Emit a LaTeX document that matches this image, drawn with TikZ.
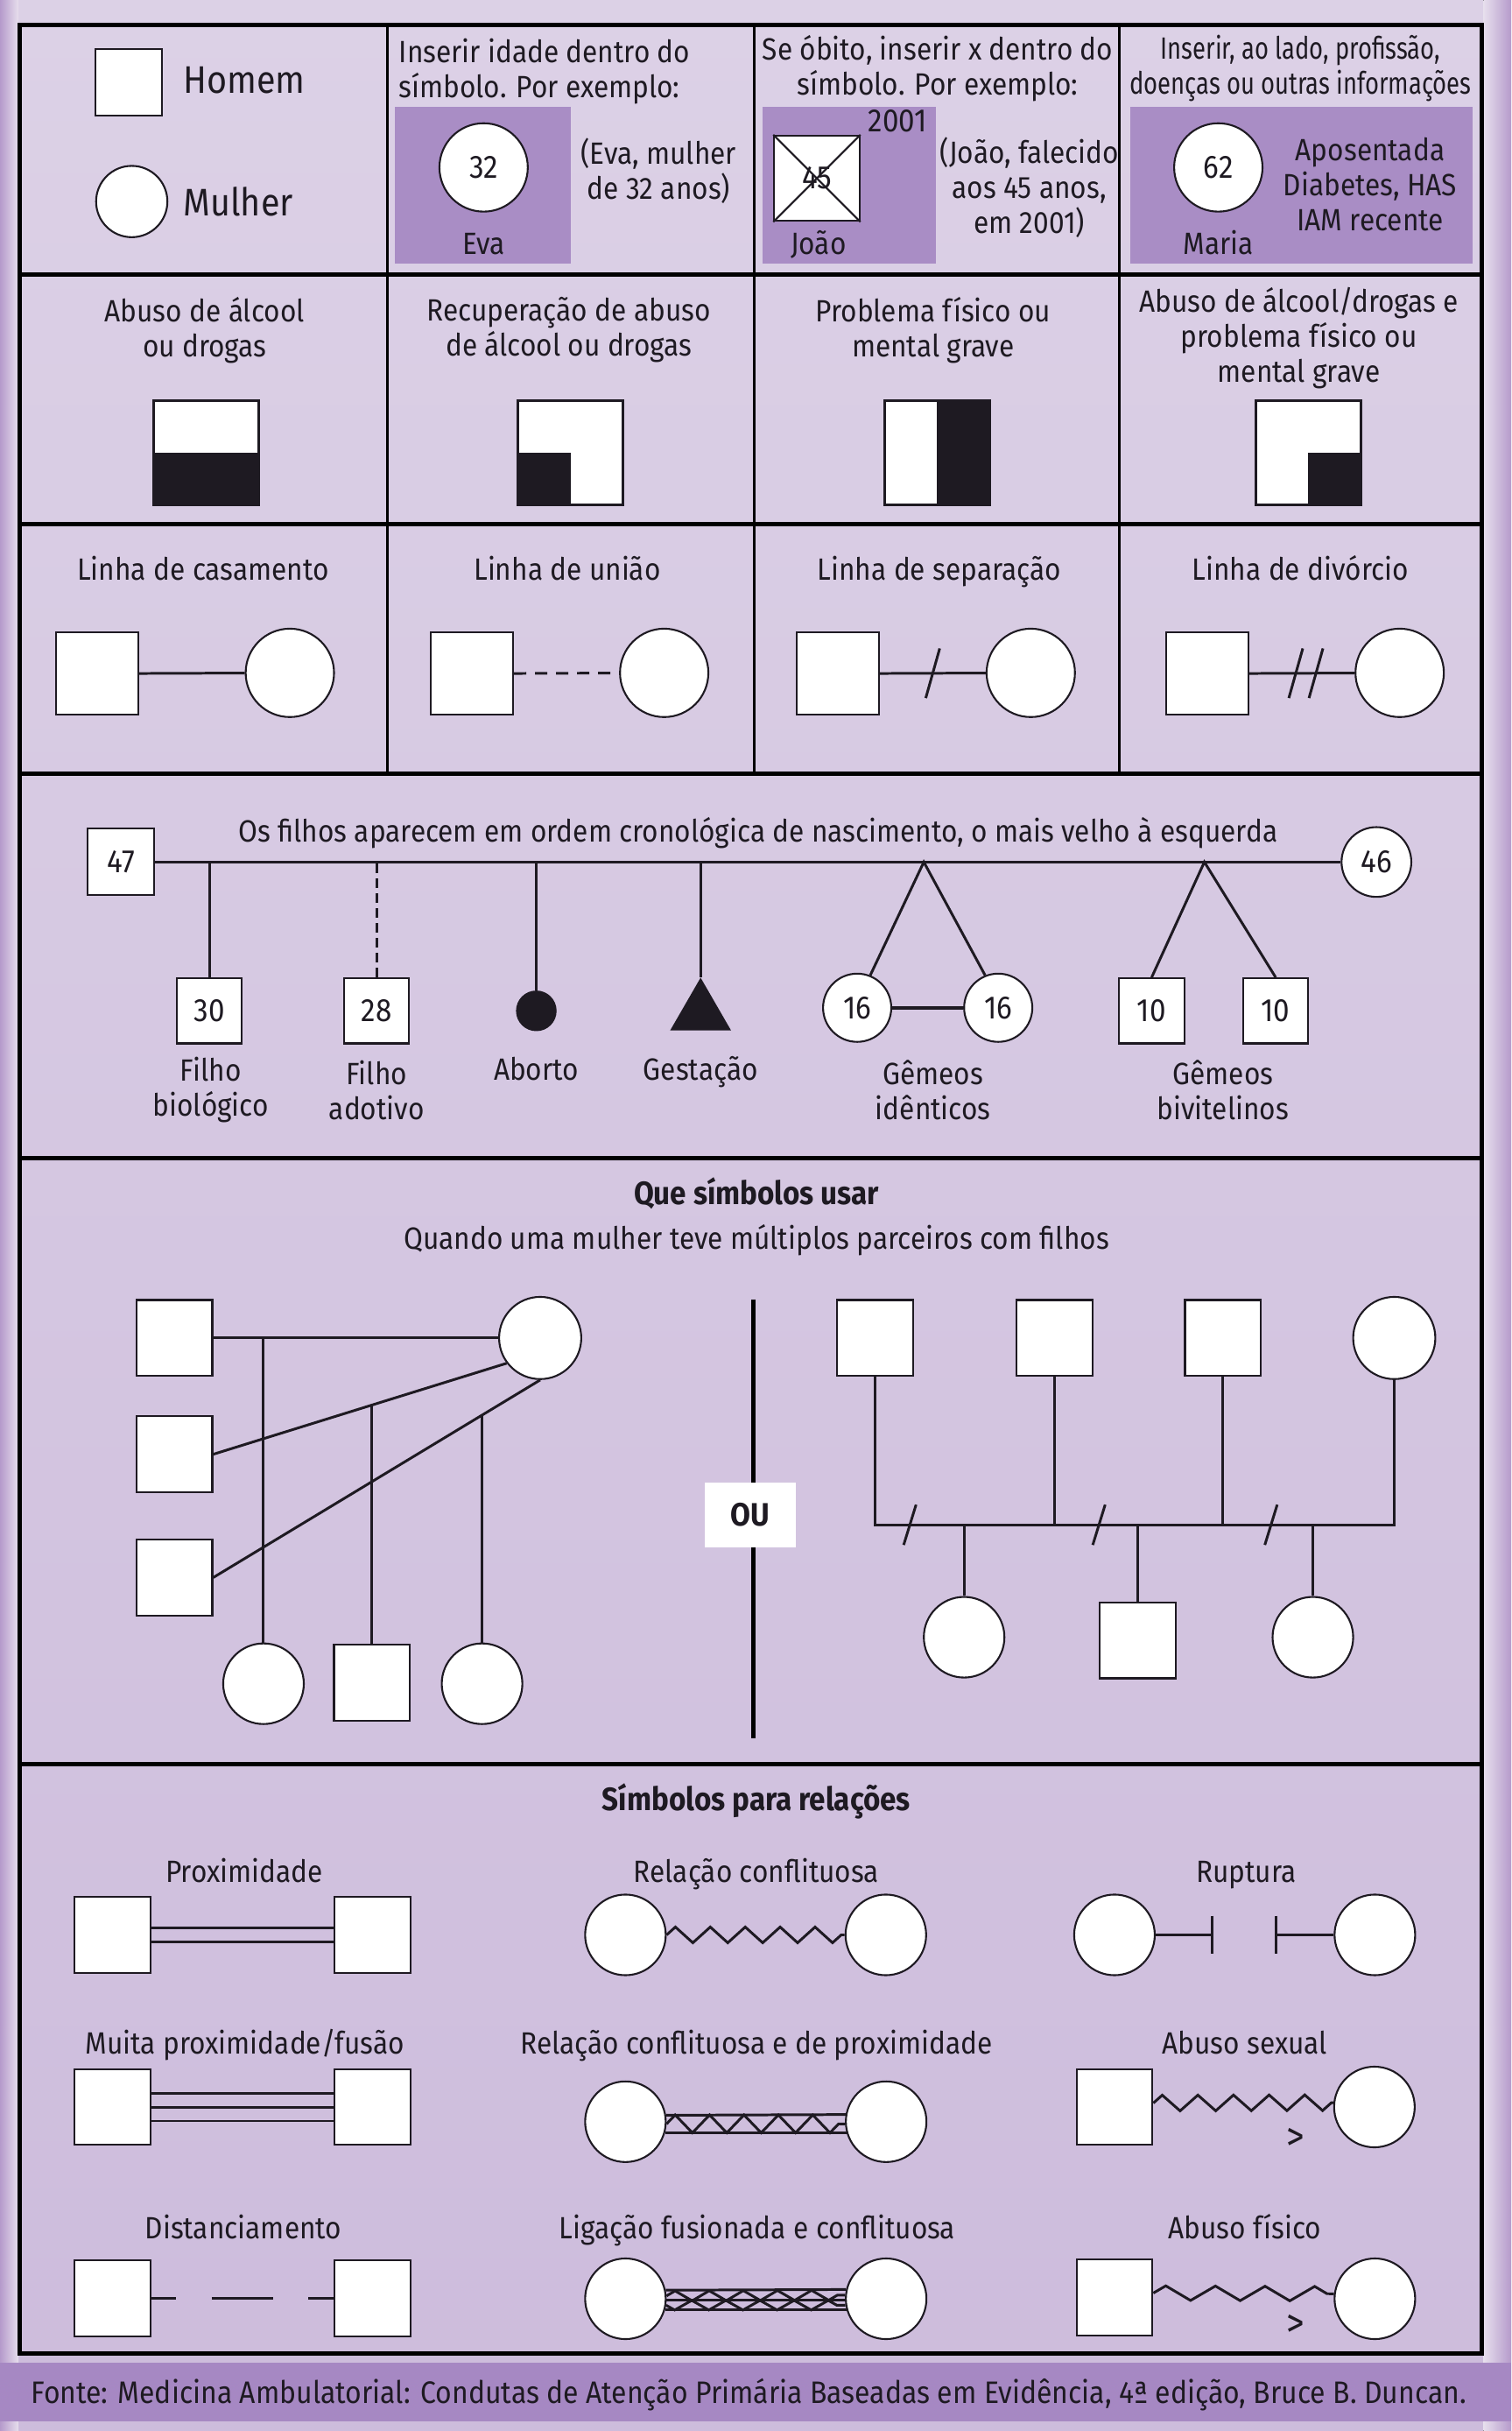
\documentclass[tikz,border=0pt]{standalone}
\usepackage{fontspec}
\setmainfont{Fira Sans}[FakeStretch=0.9]
\newfontfamily\narrowfam{Fira Sans}[FakeStretch=0.78]
\usepackage{xcolor}
\usetikzlibrary{positioning,calc,shapes.geometric,decorations.pathmorphing}

\definecolor{ink}{HTML}{1E1A22}
\definecolor{bgtop}{HTML}{DCD1E6}
\definecolor{bgmid}{HTML}{E7DFED}
\definecolor{bgbot}{HTML}{CDBCDC}
\definecolor{bgedge}{HTML}{B59ACB}
\definecolor{hl}{HTML}{A98DC5}
\definecolor{foot}{HTML}{A688C3}

\newcommand{\pxu}{0.17713mm}
\newcommand{\lblfont}{\fontsize{10}{11.4}\selectfont}
\newcommand{\bigfont}{\fontsize{12.5}{14}\selectfont}
\newcommand{\numfont}{\fontsize{10.5}{12}\selectfont}
\newcommand{\boldlbl}{\fontsize{10.5}{12}\selectfont\bfseries}
\newcommand{\narrowlbl}{\narrowfam\fontsize{10}{11.4}\selectfont}
\newcommand{\footfont}{\fontsize{10.1}{12}\selectfont}
\newcommand{\signfont}{\fontsize{13}{14}\selectfont}

\begin{document}
\begin{tikzpicture}[
  x=0.17713mm, y=-0.17713mm,
  lbl/.style={font=\lblfont,text=ink,align=center,inner sep=0pt},
  one/.style={lbl,text height=7.2pt,text depth=2.2pt},
  symb/.style={draw=ink,fill=white,line width=0.6pt,inner sep=0pt},
  msq/.style={symb,rectangle,minimum size=#1*\pxu},
  fem/.style={symb,circle,minimum size=#1*\pxu},
  num/.style={font=\numfont,text=ink},
  link/.style={draw=ink,line width=0.85pt},
  zz/.style 2 args={link,decorate,decoration={zigzag,segment length=#1,amplitude=#2}},
  zzm/.style 2 args={link,decorate,decoration={zigzag,segment length=#1,amplitude=#2,mirror}},
  rule/.style={draw=black,line width=1.4pt},
  sep/.style={draw=black,line width=0.8pt}
]
\useasboundingbox (0,0) rectangle (975,1568);
\fill[top color=bgtop,middle color=bgmid,bottom color=bgbot] (0,0) rectangle (975,1568);
\fill[left color=bgedge,right color=bgmid] (0,0) rectangle (12,1568);
\fill[left color=bgmid,right color=bgedge] (957,0) rectangle (975,1568);
\fill[foot] (0,1524) rectangle (975,1562);

\fill[hl] (255,69) rectangle (368,170);
\fill[hl] (492,69) rectangle (604,170);
\fill[hl] (729,69) rectangle (950,170);

\draw[rule] (12.5,16) rectangle (956,1518);
\foreach \y in {177,338,499,747,1138}
  \draw[rule] (12.5,\y) -- (956,\y);
\foreach \x in {250,486.5,722}
  \draw[sep] (\x,16) -- (\x,499);

\node[msq=43] (homem) at (83,53) {};
\node[one,font=\bigfont,anchor=west] (lhomem) at (118,55) {Homem};
\node[fem=46] (mulher) at (85,130) {};
\node[one,font=\bigfont,anchor=west] (lmulher) at (118,134) {Mulher};

\node[lbl,anchor=west,align=left] (idade) at (257,46) {Inserir idade dentro do\\símbolo. Por exemplo:};
\node[fem=57,num] (eva) at (312,108) {32};
\node[one] (neva) at (312,159) {Eva};
\node[lbl] (deva) at (425,110) {(Eva, mulher\\de 32 anos)};

\node[lbl] (obito) at (605,44) {Se óbito, inserir x dentro do\\símbolo. Por exemplo:};
\node[msq=55,num] (joao) at (527,115) {45};
\draw[link,line width=0.6pt] (joao.north west) -- (joao.south east) (joao.north east) -- (joao.south west);
\node[one,font=\numfont] (ano) at (579,80) {2001};
\node[one] (njoao) at (528,159) {João};
\node[lbl] (djoao) at (664,121) {(João, falecido\\aos 45 anos,\\em 2001)};

\node[lbl,font=\narrowlbl] (info) at (839,44) {Inserir, ao lado, profissão,\\doenças ou outras informações};
\node[fem=57,num] (maria) at (786,108) {62};
\node[one] (nmaria) at (786,159) {Maria};
\node[lbl] (dmaria) at (884,119) {Aposentada\\Diabetes, HAS\\IAM recente};

\node[lbl] (talc) at (132,213) {Abuso de álcool\\ou drogas};
\node[lbl] (trec) at (367,213) {Recuperação de abuso\\de álcool ou drogas};
\node[lbl] (tfis) at (602,213) {Problema físico ou\\mental grave};
\node[lbl] (tamb) at (838,218) {Abuso de álcool/drogas e\\problema físico ou\\mental grave};
\node[msq=67] (alc) at (133,292) {};
\node[msq=67] (rec) at (368,292) {};
\node[msq=67] (fis) at (604.5,292) {};
\node[msq=67] (amb) at (844,292) {};
\fill[ink] (alc.west) rectangle (alc.south east);
\fill[ink] (rec.west) rectangle (rec.south);
\fill[ink] (fis.north) rectangle (fis.south east);
\fill[ink] (amb.center) rectangle (amb.south east);
\foreach \n in {alc,rec,fis,amb}
  \draw[draw=ink,line width=0.6pt] (\n.north west) rectangle (\n.south east);

\node[one] (tcas) at (131,369) {Linha de casamento};
\node[one] (tuni) at (366,369) {Linha de união};
\node[one] (tsep) at (606,369) {Linha de separação};
\node[one] (tdiv) at (839,369) {Linha de divórcio};
\node[msq=53] (cash) at (62.5,434.5) {};
\node[fem=57] (casm) at (187,434) {};
\node[msq=53] (unih) at (304.5,434.5) {};
\node[fem=57] (unim) at (428.5,434) {};
\node[msq=53] (seph) at (540.5,434.5) {};
\node[fem=57] (sepm) at (665,434) {};
\node[msq=53] (divh) at (779,434.5) {};
\node[fem=57] (divm) at (903,434) {};
\draw[link] (cash) -- (casm);
\draw[link,dash pattern=on 1.4mm off 1mm] (unih) -- (unim);
\draw[link] (seph) -- coordinate[midway] (sepk) (sepm);
\draw[link] ([shift={(-4.5,16)}]sepk) -- ([shift={(4.5,-16)}]sepk);
\draw[link] (divh) -- coordinate[midway] (divk) (divm);
\draw[link] ([shift={(-8.5,16)}]divk) -- ([shift={(0.5,-16)}]divk);
\draw[link] ([shift={(4.5,16)}]divk) -- ([shift={(13.5,-16)}]divk);

\node[one] (ordem) at (489,538) {Os filhos aparecem em ordem cronológica de nascimento, o mais velho à esquerda};
\node[msq=43,num] (pai) at (78,556) {47};
\node[fem=45,num] (mae) at (888,556) {46};
\draw[link] (pai) -- (mae);
\node[msq=42,num] (bio) at (135,652) {30};
\node[msq=42,num] (ado) at (243,652) {28};
\node[fem=25,fill=ink] (abo) at (346,652) {};
\node[symb,fill=ink,regular polygon,regular polygon sides=3,minimum size=43*\pxu] (ges) at (452,653.3) {};
\node[fem=44,num] (ide1) at (553,650) {16};
\node[fem=44,num] (ide2) at (644,650) {16};
\node[msq=42,num] (biv1) at (743,652) {10};
\node[msq=42,num] (biv2) at (823,652) {10};
\coordinate (gide) at (596,556);
\coordinate (gbiv) at (777,556);
\draw[link] (bio.north) -- (bio.north |- pai.east);
\draw[link,dash pattern=on 1.1mm off 0.6mm] (ado.north) -- (ado.north |- pai.east);
\draw[link] (abo.north) -- (abo.north |- pai.east);
\draw[link] (ges.corner 1) -- (ges.corner 1 |- pai.east);
\draw[link] (ide1.68) -- (gide) -- (ide2.112);
\draw[link,line width=1.1pt] (ide1) -- (ide2);
\draw[link] (biv1.north) -- (gbiv) -- (biv2.north);
\node[lbl] (lbio) at (136,703) {Filho\\biológico};
\node[lbl] (lado) at (243,703) {Filho\\adotivo};
\node[one] (labo) at (346,692) {Aborto};
\node[one] (lges) at (452,692) {Gestação};
\node[lbl] (lide) at (602,703) {Gêmeos\\idênticos};
\node[lbl] (lbiv) at (789,703) {Gêmeos\\bivitelinos};

\node[one,font=\boldlbl] (qsim) at (488,772) {Que símbolos usar};
\node[one] (qmul) at (488,801) {Quando uma mulher teve múltiplos parceiros com filhos};
\node[msq=49] (hp1) at (112.5,863) {};
\node[msq=49] (hp2) at (112.5,938) {};
\node[msq=49] (hp3) at (112.5,1017.5) {};
\node[fem=53] (mp) at (348.5,863) {};
\draw[link] (hp1) -- (mp);
\draw[link] (hp2.east) -- coordinate[pos=0.541] (kp2) (mp.217);
\draw[link] (hp3.east) -- coordinate[pos=0.823] (kp3) (mp.south);
\node[fem=52] (fp1) at (170,1086) {};
\node[msq=49] (fp2) at (240,1085.5) {};
\node[fem=52] (fp3) at (311,1086) {};
\draw[link] (fp1.north) -- (fp1.north |- hp1.east);
\draw[link] (fp2.north) -- (fp2.north |- kp2);
\draw[link] (fp3.north) -- (fp3.north |- kp3);

\coordinate (ou1) at (486,838);
\coordinate (ou2) at (486,1121);
\draw[draw=black,line width=1.3pt] (ou1) -- (ou2);
\node[fill=white,minimum width=59*\pxu,minimum height=42*\pxu,font=\boldlbl,text=ink] (ou) at (484,977) {OU};

\node[msq=49] (hr1) at (564.5,863) {};
\node[msq=49] (hr2) at (680.5,863) {};
\node[msq=49] (hr3) at (789,863) {};
\node[fem=53] (mr) at (899.5,863) {};
\coordinate (barra) at (564,983.5);
\draw[link] (hr1.south) -- (hr1.south |- barra) -- (mr.south |- barra) -- (mr.south);
\draw[link] (hr2.south) -- (hr2.south |- barra);
\draw[link] (hr3.south) -- (hr3.south |- barra);
\node[fem=52] (fr1) at (622,1056) {};
\node[msq=49] (fr2) at (734,1058) {};
\node[fem=52] (fr3) at (847,1056) {};
\draw[link] (fr1.north) -- (fr1.north |- barra);
\draw[link] (fr2.north) -- (fr2.north |- barra);
\draw[link] (fr3.north) -- (fr3.north |- barra);
\coordinate (sl1) at (587,983.5);
\coordinate (sl2) at (709,983.5);
\coordinate (sl3) at (820,983.5);
\foreach \s in {sl1,sl2,sl3}
  \draw[link] ([shift={(-4,13)}]\s) -- ([shift={(4,-13)}]\s);

\node[one,font=\boldlbl] (srel) at (488,1163) {Símbolos para relações};
\node[one] (tprox) at (157.5,1209) {Proximidade};
\node[one] (tconf) at (488,1209) {Relação conflituosa};
\node[one] (trup) at (804,1209) {Ruptura};
\node[msq=49] (px1) at (72.5,1248) {};
\node[msq=49] (px2) at (240.5,1248) {};
\draw[link] ([yshift=0.8mm]px1.east) -- ([yshift=0.8mm]px2.west);
\draw[link] ([yshift=-0.8mm]px1.east) -- ([yshift=-0.8mm]px2.west);
\node[fem=52] (cf1) at (403.5,1248) {};
\node[fem=52] (cf2) at (571.5,1248) {};
\draw[zz={3.99mm}{0.9mm}] (cf1) -- (cf2);
\node[fem=52] (ru1) at (719,1248) {};
\node[fem=52] (ru2) at (887,1248) {};
\coordinate (rk1) at (782,1248);
\coordinate (rk2) at (823,1248);
\draw[link] (ru1) -- (rk1) ([yshift=2.2mm]rk1) -- ([yshift=-2.2mm]rk1);
\draw[link] (ru2) -- (rk2) ([yshift=2.2mm]rk2) -- ([yshift=-2.2mm]rk2);

\node[one] (tfus) at (158,1320) {Muita proximidade/fusão};
\node[one] (tcp) at (488,1320) {Relação conflituosa e de proximidade};
\node[one] (tsex) at (803,1320) {Abuso sexual};
\node[msq=49] (fu1) at (72.5,1359) {};
\node[msq=49] (fu2) at (240.5,1359) {};
\foreach \d in {1.6mm,0mm,-1.6mm}
  \draw[link] ([yshift=\d]fu1.east) -- ([yshift=\d]fu2.west);
\node[fem=52] (cp1) at (403.5,1368.5) {};
\node[fem=52] (cp2) at (571.7,1368.5) {};
\draw[link] (cp1.9.5) -- (cp2.170.5);
\draw[link] (cp1.-16.5) -- (cp2.196.5);
\draw[zz={3.93mm}{1.02mm}] (cp1.-3.4) -- (cp2.183.4);
\node[msq=49] (sx1) at (719,1359) {};
\node[fem=52] (sx2) at (886.7,1359) {};
\draw[zz={4.07mm}{0.9mm}] ([yshift=0.45mm]sx1.east) -- (sx2.174.4);
\node[lbl,font=\signfont] (sxd) at (836,1380) {>};

\node[one] (tdis) at (157,1439) {Distanciamento};
\node[one] (tlig) at (488.5,1439) {Ligação fusionada e conflituosa};
\node[one] (tfi) at (803,1439) {Abuso físico};
\node[msq=49] (ds1) at (72.5,1482.5) {};
\node[msq=49] (ds2) at (240.5,1482.5) {};
\draw[link,dash pattern=on 2.8mm off 4.1mm on 7.05mm off 4mm on 5mm] (ds1) -- (ds2);
\node[fem=52] (ff1) at (403.5,1482.7) {};
\node[fem=52] (ff2) at (571.7,1482.7) {};
\draw[link] (ff1.12.4) -- (ff2.167.6);
\draw[link] (ff1.-2.9) -- (ff2.182.9);
\draw[link] (ff1.-16.3) -- (ff2.196.3);
\draw[zz={3.9mm}{0.57mm}] (ff1.4.7) -- (ff2.175.3);
\draw[zzm={3.9mm}{0.55mm}] (ff1.-9.5) -- (ff2.189.5);
\node[msq=49] (ph1) at (719,1482) {};
\node[fem=52] (ph2) at (887,1482.7) {};
\draw[zz={5.67mm}{0.83mm}] ([yshift=0.53mm]ph1.east) -- (ph2.173.4);
\node[lbl,font=\signfont] (phd) at (836,1500) {>};

\node[one,font=\footfont] (fonte) at (483,1545) {Fonte: Medicina Ambulatorial: Condutas de Atenção Primária Baseadas em Evidência, 4ª edição, Bruce B. Duncan.};
\end{tikzpicture}
\end{document}
